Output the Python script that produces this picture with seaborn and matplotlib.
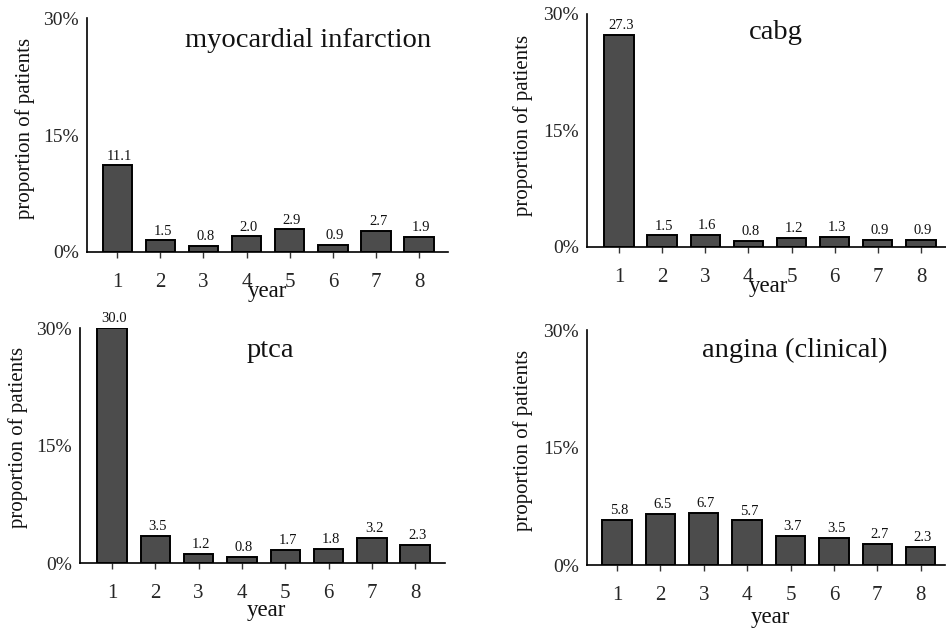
import matplotlib
matplotlib.use("Agg")
import matplotlib.pyplot as plt
import seaborn as sns
import pandas as pd

# Annual event rates (% of patients) for years 1-8 after enrolment
years = [1, 2, 3, 4, 5, 6, 7, 8]
year_labels = ["1", "2", "3", "4", "5", "6", "7", "8"]
myocardial_infarction = [11.1, 1.5, 0.8, 2.0, 2.9, 0.9, 2.7, 1.9]
cabg = [27.3, 1.5, 1.6, 0.8, 1.2, 1.3, 0.9, 0.9]
ptca = [30.0, 3.5, 1.2, 0.8, 1.7, 1.8, 3.2, 2.3]
angina_clinical = [5.8, 6.5, 6.7, 5.7, 3.7, 3.5, 2.7, 2.3]

y_ticks = [0, 15, 30]
y_tick_labels = ["0%", "15%", "30%"]

sns.set_theme(style="white")
plt.rcParams["font.family"] = ["Liberation Serif", "DejaVu Serif"]

fig = plt.figure(figsize=(9.46, 6.30), dpi=100)

panels = [
    # title, values, axes rect, xlim, title pos, year-label pos, ylabel pos
    ("myocardial infarction", myocardial_infarction,
     [0.092, 0.600, 0.3816, 0.3714], (-0.70, 7.67), (0.612, 0.906), (0.50, -0.168), (-0.172, 0.53)),
    ("cabg", cabg,
     [0.6205, 0.608, 0.3795, 0.370], (-0.74, 7.58), (0.526, 0.918), (0.504, -0.168), (-0.178, 0.52)),
    ("ptca", ptca,
     [0.0846, 0.106, 0.3858, 0.373], (-0.74, 7.69), (0.52, 0.906), (0.512, -0.200), (-0.170, 0.536)),
    ("angina (clinical)", angina_clinical,
     [0.6205, 0.103, 0.378, 0.373], (-0.69, 7.55), (0.58, 0.915), (0.514, -0.221), (-0.179, 0.53)),
]

for title, values, rect, xlim, tpos, ypos, lpos in panels:
    ax = fig.add_axes(rect)
    df = pd.DataFrame({"year": year_labels, "pct": values})
    sns.barplot(data=df, x="year", y="pct", ax=ax, color="#4c4c4c",
                width=0.68, edgecolor="black", linewidth=1.4,
                saturation=1, errorbar=None)
    for i, v in enumerate(values):
        ax.text(i + 0.05, v + 0.35, f"{v:.1f}", ha="center", va="bottom",
                fontsize=10.5, color="#111111")
    ax.set_xlim(*xlim)
    ax.set_ylim(0, 30)
    ax.set_yticks(y_ticks)
    ax.set_yticklabels(y_tick_labels, fontsize=14)
    ax.tick_params(axis="y", length=0, pad=6)
    ax.tick_params(axis="x", length=4, width=1, color="#333333",
                   direction="out", pad=11, labelsize=15, bottom=True)
    ax.set_xlabel("")
    ax.set_ylabel("")
    for s in ["top", "right"]:
        ax.spines[s].set_visible(False)
    for s in ["left", "bottom"]:
        ax.spines[s].set_color("black")
        ax.spines[s].set_linewidth(1.2)
    ax.spines["left"].set_bounds(0, 30)
    ax.set_facecolor("white")
    ax.text(tpos[0], tpos[1], title, transform=ax.transAxes, ha="center",
            va="center", fontsize=20.5, color="#111111")
    ax.text(ypos[0], ypos[1], "year", transform=ax.transAxes, ha="center",
            va="center", fontsize=16.5, color="#111111")
    ax.text(lpos[0], lpos[1], "proportion of patients", transform=ax.transAxes,
            ha="center", va="center", rotation=90, fontsize=15, color="#111111")

fig.savefig("out.png", dpi=100, facecolor="white")
